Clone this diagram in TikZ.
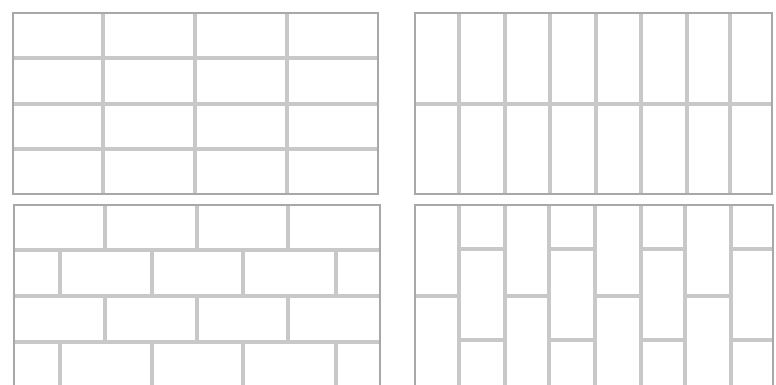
\documentclass[tikz,border=0pt]{standalone}
\definecolor{grout}{RGB}{200,200,200}
\definecolor{frame}{RGB}{168,168,168}
\tikzset{
  panel/.style={draw=frame, line width=2pt},
  joint/.style={draw=grout, line width=3.2pt}
}
\begin{document}
\begin{tikzpicture}[x=1pt,y=-1pt]
\useasboundingbox (0,0) rectangle (776,385);
\fill[white] (0,0) rectangle (776,385);
\begin{scope}
\clip (0,0) rectangle (776,385);
% top-left: stacked horizontal bond
\foreach \x in {103,195,287} \draw[joint] (\x,13) -- (\x,194);
\foreach \y in {58,104,149} \draw[joint] (12.5,\y) -- (378,\y);
\draw[panel] (12.5,13) rectangle (378,194);
% top-right: stacked vertical
\foreach \x in {459,505,550,596,641,687,730} \draw[joint] (\x,13) -- (\x,194);
\draw[joint] (415,104) -- (772,104);
\draw[panel] (415,13) rectangle (772,194);
% bottom-left: running bond horizontal
\foreach \y in {250,296,342} \draw[joint] (14,\y) -- (380,\y);
\foreach \x in {105,197,288} {
  \draw[joint] (\x,205) -- (\x,250);
  \draw[joint] (\x,296) -- (\x,342);
}
\foreach \x in {60,152,243,336} {
  \draw[joint] (\x,250) -- (\x,296);
  \draw[joint] (\x,342) -- (\x,395);
}
\draw[panel] (14,205) rectangle (380,395);
% bottom-right: running bond vertical
\foreach \x in {459,505,549,595,641,685,731} \draw[joint] (\x,205) -- (\x,395);
\foreach \a/\b in {415/459,505/549,595/641,685/731} \draw[joint] (\a,296) -- (\b,296);
\foreach \a/\b in {459/505,549/595,641/685,731/773} {
  \draw[joint] (\a,249) -- (\b,249);
  \draw[joint] (\a,340) -- (\b,340);
}
\draw[panel] (415,205) rectangle (773,395);
\end{scope}
\end{tikzpicture}
\end{document}
